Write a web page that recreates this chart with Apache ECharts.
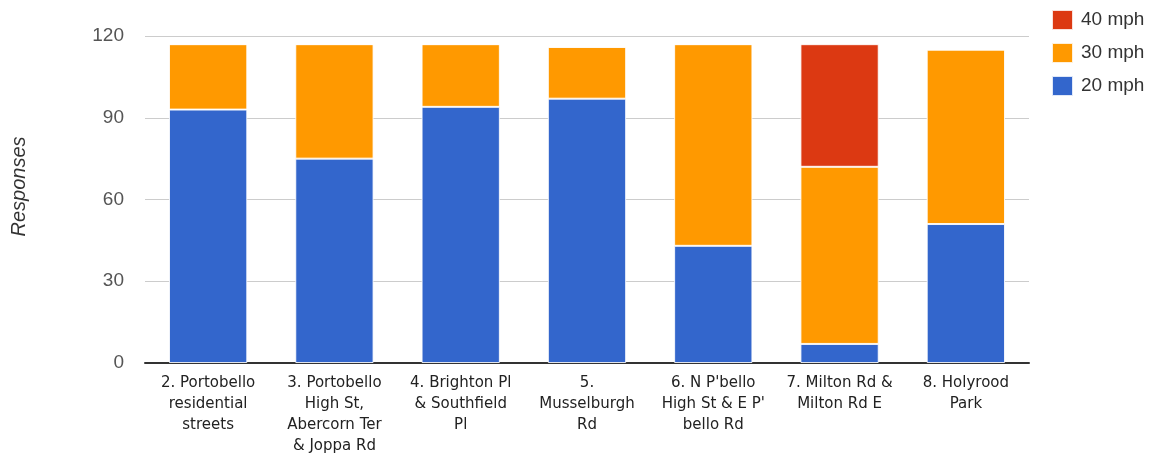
<!DOCTYPE html>
<html>
<head>
<meta charset="utf-8">
<script src="https://cdn.jsdelivr.net/npm/echarts@6/dist/echarts.min.js"></script>
<style>
  html, body { margin: 0; padding: 0; background: #fff; }
  #chart { width: 1153px; height: 457px; }
</style>
</head>
<body>
<div id="chart"></div>
<script>
// Preferred speed limit responses per area
const categories = [
  "2. Portobello\nresidential\nstreets",
  "3. Portobello\nHigh St,\nAbercorn Ter\n& Joppa Rd",
  "4. Brighton Pl\n& Southfield\nPl",
  "5.\nMusselburgh\nRd",
  "6. N P'bello\nHigh St & E P'\nbello Rd",
  "7. Milton Rd &\nMilton Rd E",
  "8. Holyrood\nPark"
];
const mph20 = [93, 75, 94, 97, 43, 7, 51];
const mph30 = [24, 42, 23, 19, 74, 65, 64];
const mph40 = [0, 0, 0, 0, 0, 45, 0];
const yTicks = [0, 30, 60, 90, 120];
const seriesNames = ["20 mph", "30 mph", "40 mph"];
const legendOrder = ["40 mph", "30 mph", "20 mph"];
const colors = ["#3366cc", "#ff9900", "#dc3912"];

const sans = "Liberation Sans, Arial, sans-serif";
const wide = "DejaVu Sans, Verdana, sans-serif";

const chart = echarts.init(document.getElementById("chart"), null, { renderer: "canvas" });

function barSeries(name, values, color) {
  return {
    name: name,
    type: "bar",
    stack: "total",
    barWidth: "62%",
    data: values,
    itemStyle: { color: color, borderColor: "rgba(255,255,255,0.85)", borderWidth: 1, opacity: 1 },
    emphasis: { disabled: true }
  };
}

chart.setOption({
  animation: false,
  color: colors,
  grid: { left: 145, right: 124, top: 36, bottom: 91 },
  legend: {
    data: legendOrder,
    orient: "vertical",
    left: 1051,
    top: 9,
    padding: 0,
    itemWidth: 21,
    itemHeight: 20,
    itemGap: 11,
    icon: "rect",
    textStyle: { fontFamily: sans, fontSize: 19, lineHeight: 20, color: "#333", padding: [0, 0, 0, 3] }
  },
  xAxis: {
    type: "category",
    data: categories,
    axisTick: { show: false },
    axisLine: { lineStyle: { color: "#333", width: 2 } },
    axisLabel: {
      interval: 0,
      fontFamily: wide,
      fontSize: 15,
      color: "#222",
      lineHeight: 21,
      margin: 10,
      align: "center",
      verticalAlign: "top"
    }
  },
  yAxis: {
    type: "value",
    min: yTicks[0],
    max: yTicks[yTicks.length - 1],
    interval: 30,
    name: "Responses",
    nameLocation: "middle",
    nameGap: 116,
    nameTextStyle: {
      fontFamily: sans, fontSize: 20, fontStyle: "italic", color: "#333",
      padding: [0, 0, 0, 26]
    },
    axisLine: { show: false },
    axisTick: { show: false },
    axisLabel: { fontFamily: sans, fontSize: 19, color: "#555", margin: 21 },
    splitLine: { lineStyle: { color: "#cccccc", width: 1 } }
  },
  series: [
    barSeries(seriesNames[0], mph20, colors[0]),
    barSeries(seriesNames[1], mph30, colors[1]),
    barSeries(seriesNames[2], mph40, colors[2])
  ]
});
</script>
</body>
</html>
